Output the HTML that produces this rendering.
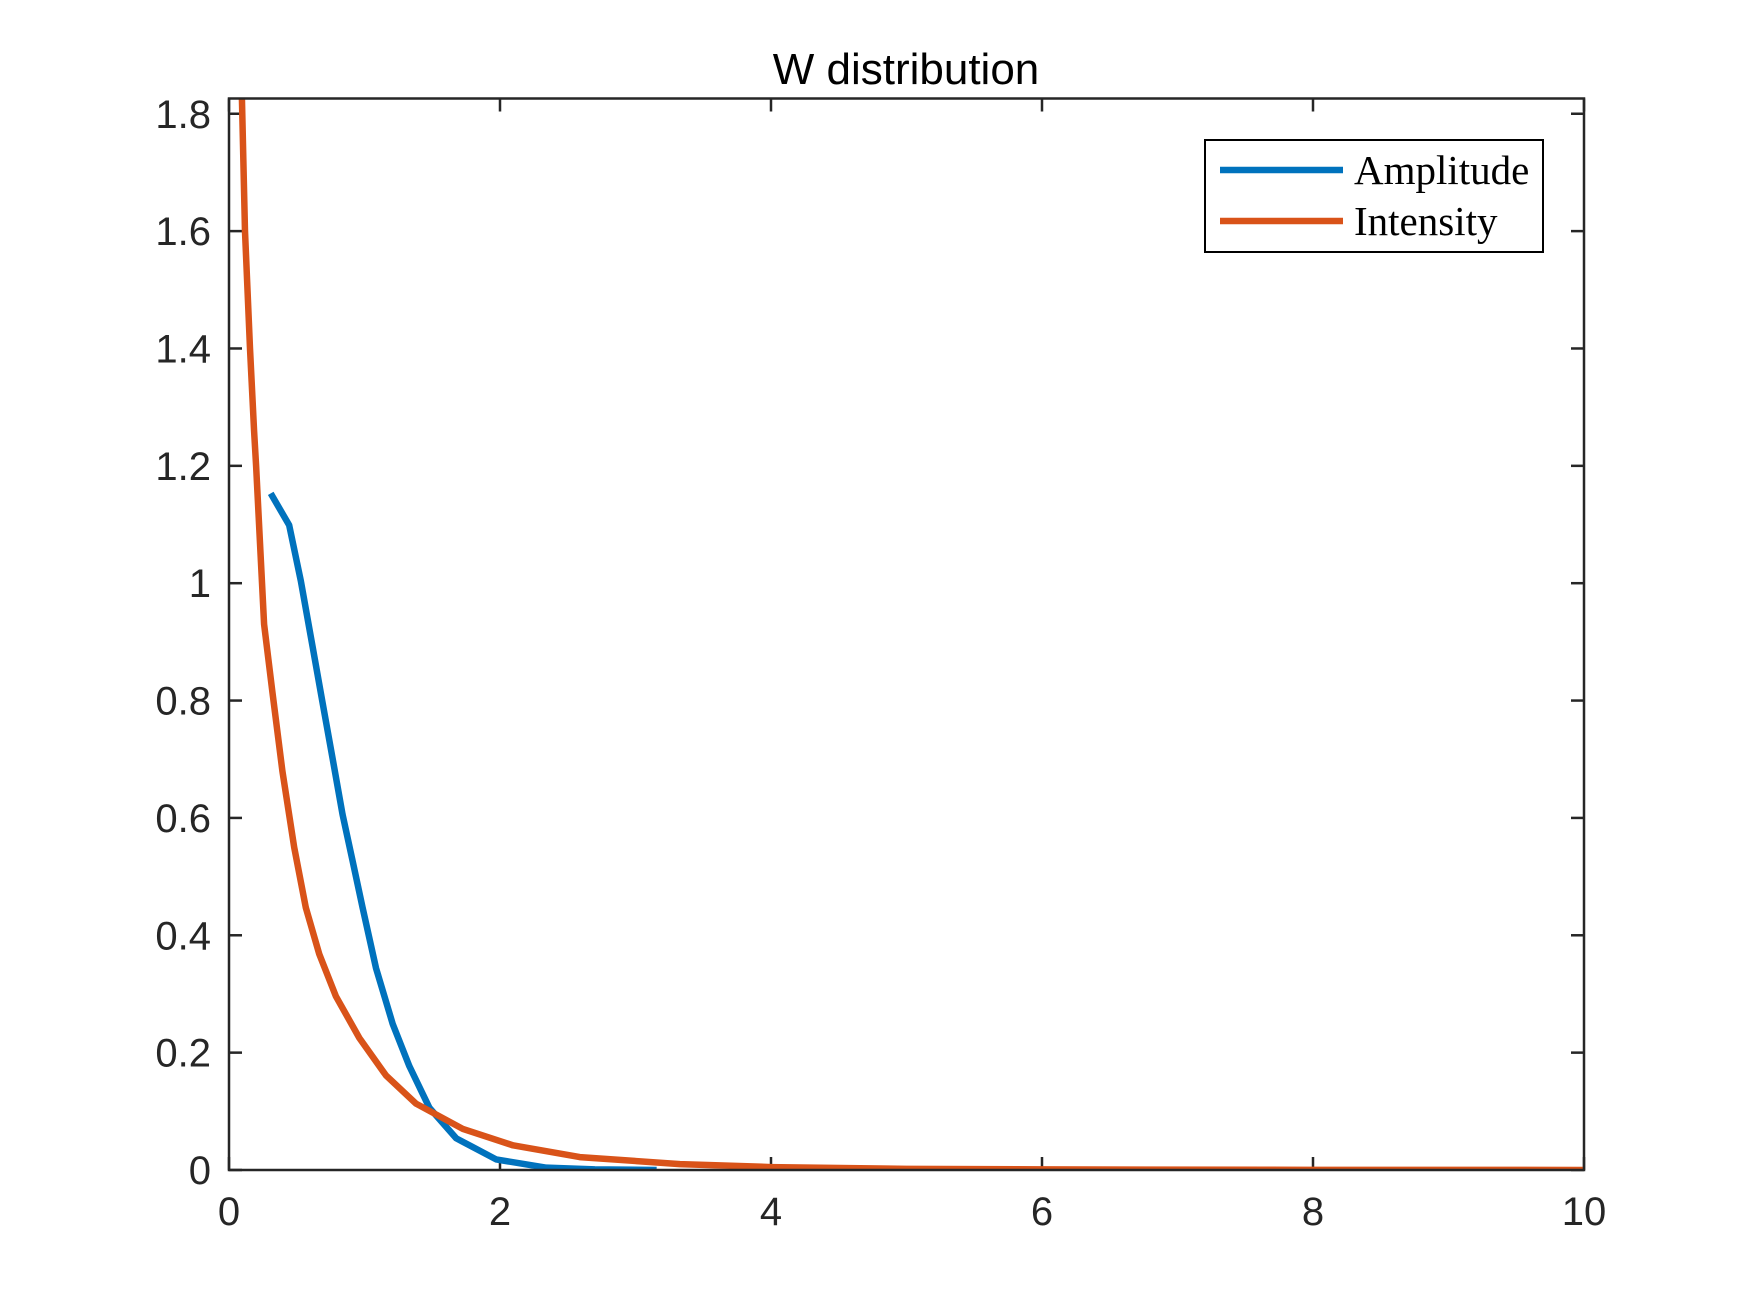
<!DOCTYPE html>
<html><head><meta charset="utf-8"><style>
html,body{margin:0;padding:0;background:#fff;}
svg{display:block;}
</style></head><body>
<svg id="chart" width="1750" height="1313" viewBox="0 0 1750 1313">
<defs><clipPath id="plotclip"><rect x="229" y="98.5" width="1355" height="1071.5"/></clipPath></defs>
<rect x="0" y="0" width="1750" height="1313" fill="#fff"/>
<text x="906" y="84" font-family="'Liberation Sans', sans-serif" font-size="44" text-anchor="middle" fill="#000">W distribution</text>
<g id="ticks"></g>
<g id="series" clip-path="url(#plotclip)"></g>
<rect x="229" y="98.5" width="1355" height="1071.5" fill="none" stroke="#262626" stroke-width="2.5"/>
<g>
<rect x="1205" y="140" width="338" height="112" fill="#fff" stroke="#000" stroke-width="2"/>
<line x1="1220" y1="170" x2="1343" y2="170" stroke="#0072BD" stroke-width="6.5"/>
<text x="1354" y="184" font-family="'Liberation Serif', serif" font-size="41" fill="#000">Amplitude</text>
<line x1="1220" y1="221" x2="1343" y2="221" stroke="#D95319" stroke-width="6.5"/>
<text x="1354" y="235" font-family="'Liberation Serif', serif" font-size="41" fill="#000">Intensity</text>
</g>
</svg>
<script>
const xTicks = [0, 2, 4, 6, 8, 10];
const xTickLabels = ["0", "2", "4", "6", "8", "10"];
const yTicks = [0, 0.2, 0.4, 0.6, 0.8, 1, 1.2, 1.4, 1.6, 1.8];
const yTickLabels = ["0", "0.2", "0.4", "0.6", "0.8", "1", "1.2", "1.4", "1.6", "1.8"];
const intensityX = [0.094, 0.118, 0.155, 0.185, 0.2, 0.259, 0.32, 0.394, 0.481, 0.567, 0.666, 0.789, 0.962, 1.159, 1.381, 1.726, 2.096, 2.589, 3.328, 4, 5, 6, 8, 10];
const intensityY = [1.84, 1.6, 1.4, 1.26, 1.2, 0.93, 0.815, 0.68, 0.55, 0.447, 0.368, 0.296, 0.225, 0.161, 0.113, 0.070, 0.042, 0.022, 0.010, 0.005, 0.002, 0.001, 0.0003, 0.0001];
const amplitudeX = [0.308, 0.444, 0.53, 0.616, 0.69, 0.764, 0.838, 0.912, 0.986, 1.085, 1.208, 1.331, 1.479, 1.677, 1.972, 2.342, 2.7, 3.156];
const amplitudeY = [1.153, 1.099, 1.004, 0.893, 0.797, 0.702, 0.606, 0.527, 0.447, 0.344, 0.249, 0.177, 0.106, 0.054, 0.018, 0.004, 0.001, 0.0];

const X0 = 229, X1 = 1584, Y0 = 1170, YTOP = 98.5;
const xMin = 0, xMax = 10, yMin = 0, yMax = 1.826;
function sx(v){ return X0 + (v - xMin) / (xMax - xMin) * (X1 - X0); }
function sy(v){ return Y0 - (v - yMin) / (yMax - yMin) * (Y0 - YTOP); }
const NS = "http://www.w3.org/2000/svg";
const tg = document.getElementById('ticks');
const sg = document.getElementById('series');

xTicks.forEach((t, i) => {
  const x = sx(t);
  [[Y0, Y0 - 13], [YTOP, YTOP + 13]].forEach(p => {
    const l = document.createElementNS(NS, 'line');
    l.setAttribute('x1', x); l.setAttribute('x2', x);
    l.setAttribute('y1', p[0]); l.setAttribute('y2', p[1]);
    l.setAttribute('stroke', '#262626'); l.setAttribute('stroke-width', '2.5');
    
    
    tg.appendChild(l);
  });
  const tx = document.createElementNS(NS, 'text');
  tx.setAttribute('x', x); tx.setAttribute('y', 1225);
  tx.setAttribute('text-anchor', 'middle');
  tx.setAttribute('font-family', "'Liberation Sans', sans-serif");
  tx.setAttribute('font-size', '40'); tx.setAttribute('fill', '#262626');
  tx.textContent = xTickLabels[i];
  
  
  tg.appendChild(tx);
});
yTicks.forEach((t, i) => {
  const y = sy(t);
  [[X0, X0 + 13], [X1, X1 - 13]].forEach(p => {
    const l = document.createElementNS(NS, 'line');
    l.setAttribute('x1', p[0]); l.setAttribute('x2', p[1]);
    l.setAttribute('y1', y); l.setAttribute('y2', y);
    l.setAttribute('stroke', '#262626'); l.setAttribute('stroke-width', '2.5');
    
    
    tg.appendChild(l);
  });
  const tx = document.createElementNS(NS, 'text');
  tx.setAttribute('x', 211); tx.setAttribute('y', y + 14);
  tx.setAttribute('text-anchor', 'end');
  tx.setAttribute('font-family', "'Liberation Sans', sans-serif");
  tx.setAttribute('font-size', '40'); tx.setAttribute('fill', '#262626');
  tx.textContent = yTickLabels[i];
  
  
  tg.appendChild(tx);
});
function drawLine(xs, ys, color, name){
  const p = document.createElementNS(NS, 'polyline');
  p.setAttribute('points', xs.map((x, i) => sx(x) + ',' + sy(ys[i])).join(' '));
  p.setAttribute('fill', 'none'); p.setAttribute('stroke', color);
  p.setAttribute('stroke-width', '6.5'); p.setAttribute('stroke-linejoin', 'round');
  
  
  sg.appendChild(p);
}
drawLine(amplitudeX, amplitudeY, '#0072BD', 'amplitude-line');
drawLine(intensityX, intensityY, '#D95319', 'intensity-line');
</script>
</body></html>
